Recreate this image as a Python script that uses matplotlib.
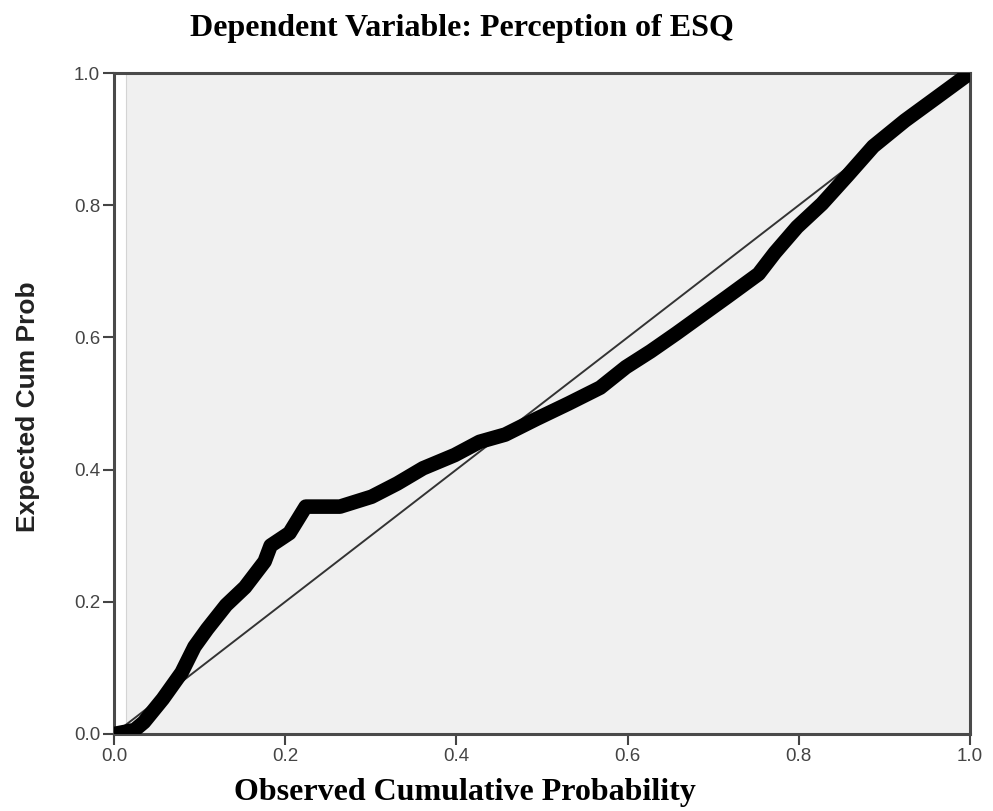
import numpy as np
import matplotlib
matplotlib.use('Agg')
from matplotlib import pyplot as plt

# observed vs expected cumulative probability
observed = [0.0, 0.024, 0.035, 0.057, 0.079, 0.094, 0.109, 0.131, 0.153, 0.176,
            0.183, 0.205, 0.224, 0.264, 0.301, 0.331, 0.361, 0.398, 0.427, 0.457,
            0.494, 0.531, 0.568, 0.598, 0.627, 0.657, 0.687, 0.716, 0.753, 0.772,
            0.798, 0.827, 0.857, 0.887, 0.924, 0.961, 1.0]
expected = [0.0, 0.006, 0.018, 0.053, 0.093, 0.132, 0.159, 0.195, 0.222, 0.261,
            0.285, 0.304, 0.344, 0.344, 0.359, 0.379, 0.402, 0.422, 0.442, 0.453,
            0.477, 0.500, 0.524, 0.555, 0.579, 0.606, 0.634, 0.661, 0.696, 0.728,
            0.767, 0.802, 0.845, 0.889, 0.928, 0.963, 1.0]
ref_line = [0.0, 1.0]
ticks = [0.0, 0.2, 0.4, 0.6, 0.8, 1.0]

title = 'Dependent Variable: Perception of ESQ'
xlabel = 'Observed Cumulative Probability'
ylabel = 'Expected Cum Prob'

fig = plt.figure(figsize=(9.93, 8.11), dpi=100)
ax = fig.add_axes([114 / 993, 1 - 734 / 811, (970 - 114) / 993, (734 - 73) / 811])
ax.set_facecolor('#f0f0f0')

# thin white strip + inner frame line like the SPSS plot area
ax.axvspan(0, 0.014, color='white', lw=0)
ax.axvline(0.014, color='#d4d4d4', lw=0.8)

ax.plot(ref_line, ref_line, color='#333333', lw=1.4, zorder=3)
ax.plot(observed, expected, color='black', lw=10.5, solid_capstyle='round',
        solid_joinstyle='round', zorder=4)

ax.set_xlim(0, 1)
ax.set_ylim(0, 1)
ax.set_xticks(ticks)
ax.set_yticks(ticks)
ax.set_xticklabels([f'{t:.1f}' for t in ticks])
ax.set_yticklabels([f'{t:.1f}' for t in ticks])
ax.tick_params(direction='out', length=8, width=1.5, color='#444444',
               labelsize=13.5, labelcolor='#444444', pad=2)
for lab in ax.get_xticklabels() + ax.get_yticklabels():
    lab.set_family('Liberation Sans')

for s in ax.spines.values():
    s.set_color('#4a4a4a')
    s.set_linewidth(2.2)

fig.text(462 / 993, 1 - 36 / 811, title, ha='center', va='baseline',
         family='Liberation Serif', weight='bold', fontsize=23)
fig.text(465 / 993, 1 - 800 / 811, xlabel, ha='center', va='baseline',
         family='Liberation Serif', weight='bold', fontsize=23)
fig.text(28 / 993, 1 - 407 / 811, ylabel, ha='center', va='center', rotation=90,
         family='Liberation Sans', weight='bold', fontsize=19, color='#222222')

fig.savefig('out.png', dpi=100)
